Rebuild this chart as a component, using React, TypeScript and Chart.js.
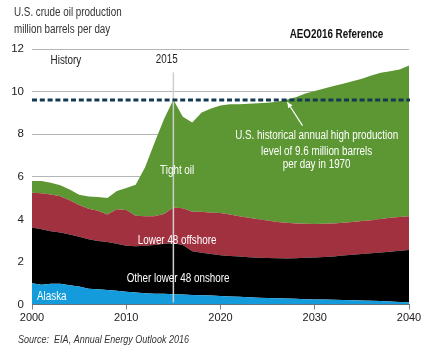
import React, { useEffect, useRef } from "react";
import { Chart, registerables } from "chart.js";

Chart.register(...registerables);

const years = Array.from({ length: 41 }, (_, i) => 2000 + i);

const alaska = [1.0, 0.93, 0.98, 0.98, 0.9, 0.85, 0.74, 0.72, 0.68, 0.65, 0.6, 0.56, 0.53, 0.51, 0.5, 0.48, 0.47, 0.45, 0.43, 0.42, 0.4, 0.38, 0.36, 0.34, 0.32, 0.3, 0.29, 0.28, 0.27, 0.25, 0.24, 0.23, 0.22, 0.21, 0.2, 0.19, 0.18, 0.16, 0.14, 0.12, 0.1];
const onshore = [2.62, 2.6, 2.46, 2.4, 2.39, 2.33, 2.33, 2.26, 2.25, 2.2, 2.16, 2.17, 2.23, 2.29, 2.35, 2.4, 2.33, 2.05, 2.0, 1.95, 1.91, 1.9, 1.89, 1.88, 1.88, 1.88, 1.88, 1.88, 1.9, 1.94, 1.97, 2.0, 2.04, 2.09, 2.14, 2.18, 2.23, 2.28, 2.34, 2.4, 2.46];
const offshore = [1.63, 1.7, 1.73, 1.71, 1.61, 1.49, 1.43, 1.42, 1.3, 1.62, 1.68, 1.44, 1.39, 1.35, 1.4, 1.68, 1.72, 1.86, 1.93, 1.94, 1.99, 1.95, 1.9, 1.86, 1.8, 1.77, 1.71, 1.68, 1.63, 1.6, 1.57, 1.56, 1.55, 1.54, 1.54, 1.55, 1.55, 1.57, 1.59, 1.59, 1.59];
const tightOil = [0.55, 0.57, 0.55, 0.51, 0.5, 0.48, 0.57, 0.65, 0.77, 0.86, 1.03, 1.46, 2.3, 3.45, 4.45, 5.06, 4.3, 4.19, 4.66, 4.89, 5.05, 5.18, 5.26, 5.35, 5.45, 5.52, 5.64, 5.78, 5.93, 6.12, 6.25, 6.36, 6.45, 6.53, 6.6, 6.68, 6.8, 6.87, 6.89, 6.93, 7.08];

const seriesNames = ["Alaska", "Other lower 48 onshore", "Lower 48 offshore", "Tight oil"];
const seriesColors = ["#149bdc", "#000000", "#a2313f", "#5c9733"];
const yTicks = [0, 2, 4, 6, 8, 10, 12];
const xTicks = [2000, 2010, 2020, 2030, 2040];
const HIST_HIGH = 9.6;
const HISTORY_END = 2015;

const FONT = "'Liberation Sans', Arial, sans-serif";
const SX = 0.82;

function txt(ctx: any, s: string, x: number, y: number, align: string, font: string, color: string) {
  ctx.save();
  ctx.font = font;
  ctx.fillStyle = color;
  ctx.textBaseline = "middle";
  ctx.textAlign = align;
  ctx.translate(x, y);
  ctx.scale(SX, 1);
  ctx.fillText(s, 0, 0);
  ctx.restore();
}

const overlayPlugin = {
  id: "overlay",
  afterDatasetsDraw(chart: any) {
    const { ctx, chartArea, scales } = chart;
    const xs = scales.x;
    const ys = scales.y;
    ctx.save();
    const x15 = xs.getPixelForValue(HISTORY_END);
    ctx.strokeStyle = "#cfcfcf";
    ctx.lineWidth = 1.5;
    ctx.beginPath();
    ctx.moveTo(x15, ys.getPixelForValue(10.9));
    ctx.lineTo(x15, chartArea.bottom - 2);
    ctx.stroke();

    const yH = ys.getPixelForValue(HIST_HIGH);
    ctx.strokeStyle = "#133a52";
    ctx.lineWidth = 3;
    ctx.setLineDash([5, 2.8]);
    ctx.beginPath();
    ctx.moveTo(chartArea.left, yH);
    ctx.lineTo(chartArea.right + 1, yH);
    ctx.stroke();
    ctx.setLineDash([]);

    const ax0 = xs.getPixelForValue(2028.7);
    const ay0 = ys.getPixelForValue(8.4);
    const ax1 = xs.getPixelForValue(2027.1);
    const ay1 = ys.getPixelForValue(9.5);
    ctx.strokeStyle = "#ffffff";
    ctx.fillStyle = "#ffffff";
    ctx.lineWidth = 1.2;
    ctx.beginPath();
    ctx.moveTo(ax0, ay0);
    ctx.lineTo(ax1, ay1);
    ctx.stroke();
    const ang = Math.atan2(ay1 - ay0, ax1 - ax0);
    const hl = 6;
    ctx.beginPath();
    ctx.moveTo(ax1, ay1);
    ctx.lineTo(ax1 - hl * Math.cos(ang - 0.45), ay1 - hl * Math.sin(ang - 0.45));
    ctx.lineTo(ax1 - hl * Math.cos(ang + 0.45), ay1 - hl * Math.sin(ang + 0.45));
    ctx.closePath();
    ctx.fill();
    ctx.restore();

    const f12 = `12px ${FONT}`;
    txt(ctx, seriesNames[3], xs.getPixelForValue(2015.4), ys.getPixelForValue(6.3), "center", f12, "#fff");
    txt(ctx, seriesNames[2], xs.getPixelForValue(2015.4), ys.getPixelForValue(3.0), "center", f12, "#fff");
    txt(ctx, seriesNames[1], xs.getPixelForValue(2015.5), ys.getPixelForValue(1.2), "center", f12, "#fff");
    txt(ctx, seriesNames[0], xs.getPixelForValue(2002.1), ys.getPixelForValue(0.37), "center", f12, "#fff");

    const ax = xs.getPixelForValue(2030.2);
    txt(ctx, "U.S. historical annual high production", ax, ys.getPixelForValue(7.93), "center", f12, "#fff");
    txt(ctx, "level of 9.6 million barrels", ax, ys.getPixelForValue(7.2), "center", f12, "#fff");
    txt(ctx, "per day in 1970", ax, ys.getPixelForValue(6.55), "center", f12, "#fff");

    txt(ctx, "History", xs.getPixelForValue(2003.6), ys.getPixelForValue(11.43), "center", f12, "#222");
    txt(ctx, "2015", xs.getPixelForValue(2014.3), ys.getPixelForValue(11.48), "center", f12, "#222");
    txt(ctx, "AEO2016 Reference", xs.getPixelForValue(2032.3), ys.getPixelForValue(12.65), "center", `bold 12px ${FONT}`, "#111");

    txt(ctx, "U.S. crude oil production", 14, 12.5, "left", f12, "#333");
    txt(ctx, "million barrels per day", 14, 30, "left", f12, "#333");
    txt(ctx, "Source:  EIA, Annual Energy Outlook 2016", 18, 340, "left", `italic 11px ${FONT}`, "#333");
  },
};

export default function App() {
  const ref = useRef<HTMLCanvasElement>(null);
  useEffect(() => {
    document.body.style.margin = "0";
    const series = [alaska, onshore, offshore, tightOil];
    const chart = new Chart(ref.current!, {
      type: "line",
      data: {
        datasets: series.map((arr, i) => ({
          label: seriesNames[i],
          data: years.map((yr, j) => ({ x: yr, y: arr[j] })),
          backgroundColor: seriesColors[i],
          borderColor: seriesColors[i],
          borderWidth: 0,
          pointRadius: 0,
          tension: 0,
          fill: i === 0 ? "origin" : "-1",
        })),
      },
      options: {
        responsive: false,
        animation: false,
        devicePixelRatio: 1,
        layout: { padding: { top: 49, right: 16, left: 0, bottom: 0 } },
        plugins: { legend: { display: false }, tooltip: { enabled: false } },
        scales: {
          x: {
            type: "linear",
            min: 2000,
            max: 2040,
            afterBuildTicks: (s: any) => {
              s.ticks = xTicks.map((v) => ({ value: v }));
            },
            afterFit: (s: any) => {
              s.height = 49.5;
            },
            grid: { drawOnChartArea: false, drawTicks: true, tickLength: 5, color: "#808080" },
            border: { display: true, color: "#707070", width: 1 },
            ticks: { color: "#222", padding: 2, font: { family: FONT, size: 11 }, callback: (v: any) => String(v) },
          },
          y: {
            stacked: true,
            min: 0,
            max: 12,
            afterBuildTicks: (s: any) => {
              s.ticks = yTicks.map((v) => ({ value: v }));
            },
            afterFit: (s: any) => {
              s.width = 32;
            },
            grid: { color: "#b5b5b5", lineWidth: 1, drawTicks: false },
            border: { display: false },
            ticks: { color: "#222", padding: 8, font: { family: FONT, size: 11.5 } },
          },
        },
      },
      plugins: [overlayPlugin],
    });
    return () => chart.destroy();
  }, []);
  return (
    <div style={{ width: 425, height: 354, background: "#fff" }}>
      <canvas ref={ref} width={425} height={354} />
    </div>
  );
}
